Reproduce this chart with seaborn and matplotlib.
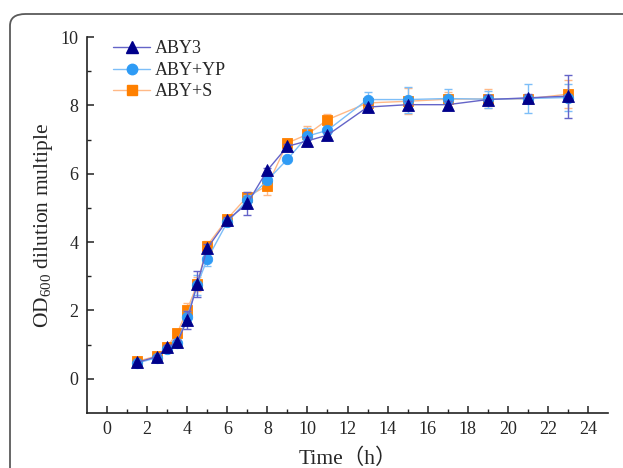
import numpy as np
import pandas as pd
import matplotlib
matplotlib.use("Agg")
import matplotlib.pyplot as plt
from matplotlib.patches import FancyBboxPatch
from matplotlib.lines import Line2D
import seaborn as sns

# Sampling times (h)
time_h = [1.5, 2.5, 3, 3.5, 4, 4.5, 5, 6, 7, 8, 9, 10, 11, 13, 15, 17, 19, 21, 23]

# OD600 dilution multiple, mean values
aby3 = [0.48, 0.65, 0.92, 1.07, 1.72, 2.77, 3.82, 4.64, 5.13, 6.10, 6.80, 6.96, 7.13,
        7.95, 8.02, 8.02, 8.17, 8.22, 8.27]
aby_yp = [0.46, 0.62, 0.87, 1.06, 1.82, 2.75, 3.50, 4.58, 5.23, 5.81, 6.42, 7.10, 7.27,
          8.17, 8.17, 8.20, 8.18, 8.20, 8.23]
aby_s = [0.51, 0.67, 0.94, 1.33, 2.02, 2.77, 3.90, 4.68, 5.33, 5.65, 6.90, 7.15, 7.58,
         8.07, 8.12, 8.18, 8.19, 8.19, 8.33]

# Standard deviations
aby3_sd = [0.05, 0.05, 0.06, 0.06, 0.25, 0.38, 0.12, 0.08, 0.35, 0.08, 0.08, 0.12, 0.08,
           0.08, 0.10, 0.10, 0.12, 0.10, 0.63]
aby_yp_sd = [0.05, 0.05, 0.05, 0.06, 0.15, 0.30, 0.20, 0.08, 0.15, 0.12, 0.06, 0.25, 0.10,
             0.23, 0.38, 0.27, 0.25, 0.43, 0.40]
aby_s_sd = [0.05, 0.05, 0.05, 0.05, 0.20, 0.20, 0.12, 0.06, 0.15, 0.28, 0.10, 0.25, 0.17,
            0.10, 0.38, 0.20, 0.28, 0.10, 0.40]

series_names = ["ABY3", "ABY+YP", "ABY+S"]
marker_colors = {"ABY3": "#00008B", "ABY+YP": "#2E9BF5", "ABY+S": "#FF8000"}
line_colors = {"ABY3": "#6464C8", "ABY+YP": "#7DBEF8", "ABY+S": "#FFB987"}
markers = {"ABY3": "^", "ABY+YP": "o", "ABY+S": "s"}
sizes = {"ABY3": 8, "ABY+YP": 7.5, "ABY+S": 7}

df = pd.concat([
    pd.DataFrame({"time": time_h, "od": aby3, "sd": aby3_sd, "group": "ABY3"}),
    pd.DataFrame({"time": time_h, "od": aby_yp, "sd": aby_yp_sd, "group": "ABY+YP"}),
    pd.DataFrame({"time": time_h, "od": aby_s, "sd": aby_s_sd, "group": "ABY+S"}),
], ignore_index=True)

sns.set_style("ticks")
plt.rcParams["font.family"] = ["Liberation Serif", "Noto Sans CJK SC"]
plt.rcParams["mathtext.fontset"] = "custom"
plt.rcParams["mathtext.rm"] = "Liberation Serif"

fig = plt.figure(figsize=(6.23, 4.68), dpi=100)

# Rounded panel frame
frame = FancyBboxPatch((10 / 623, -0.2), 1.2, 1.2 - 14 / 468,
                       boxstyle="round,pad=0,rounding_size=0.025",
                       transform=fig.transFigure, fill=False,
                       edgecolor="#5a5a5a", linewidth=1.3, zorder=0)
fig.patches.append(frame)

ax = fig.add_axes([87 / 623, 55 / 468, 521 / 623, 376 / 468])
ax.set_facecolor("none")

draw_order = ["ABY+S", "ABY+YP", "ABY3"]
for i, name in enumerate(draw_order):
    sub = df[df["group"] == name]
    ax.errorbar(sub["time"], sub["od"], yerr=sub["sd"], fmt="none",
                ecolor=line_colors[name], elinewidth=1.0, capsize=3,
                capthick=1.0, zorder=2 + 2 * i)
    sns.lineplot(data=sub, x="time", y="od", ax=ax, color=line_colors[name],
                 linewidth=1.0, marker=markers[name], markersize=sizes[name],
                 markerfacecolor=marker_colors[name], markeredgecolor=marker_colors[name],
                 markeredgewidth=0.6, estimator=None, errorbar=None,
                 legend=False, zorder=3 + 2 * i)

ax.set_xlim(-1, 25)
ax.set_ylim(-1, 10)
ax.set_xticks(np.arange(0, 25, 2))
ax.set_xticks(np.arange(1, 25, 2), minor=True)
ax.set_yticks(np.arange(0, 11, 2))
ax.set_yticks(np.arange(1, 10, 2), minor=True)
sns.despine(ax=ax)
for side in ("left", "bottom"):
    ax.spines[side].set_linewidth(1.2)
    ax.spines[side].set_color("#222222")
ax.tick_params(which="major", direction="in", length=5, width=1.1, labelsize=13,
               color="#222222", pad=6)
ax.tick_params(which="minor", direction="in", length=3, width=1.0, color="#222222")

ax.set_xlabel("Time（h）", fontsize=15.5, labelpad=7)
ax.set_ylabel("OD$_{600}$ dilution multiple", fontsize=15.5, labelpad=4)

handles = [Line2D([], [], color=line_colors[n], linewidth=1.0, marker=markers[n],
                  markersize=sizes[n], markerfacecolor=marker_colors[n],
                  markeredgecolor=marker_colors[n]) for n in series_names]
ax.legend(handles, series_names, loc="upper left", bbox_to_anchor=(0.03, 1.02),
          frameon=False, fontsize=13, handlelength=2.0, handletextpad=0.3,
          labelspacing=0.25, borderaxespad=0.2)

fig.savefig("out.png", dpi=100)
